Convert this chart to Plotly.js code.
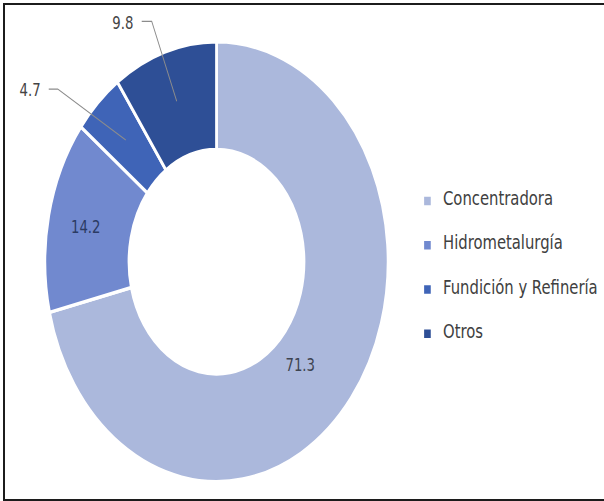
<!DOCTYPE html>
<html>
<head>
<meta charset="utf-8">
<script src="https://cdn.plot.ly/plotly-3.0.1.min.js"></script>
<style>
  html, body { margin: 0; padding: 0; background: #ffffff; overflow: hidden; }
  #wrap { position: absolute; left: 0; top: 0; width: 604px; height: 501px; overflow: hidden; background: #fff; }
  #chart { position: absolute; left: 0; top: 0; width: 775px; height: 501px; transform: scaleX(0.78); transform-origin: 0 0; }
  #frame { position: absolute; left: 3px; top: 3px; width: 601px; height: 498px; box-sizing: border-box; border-style: solid; border-color: #1c1c1c; border-width: 2px 0 2px 2px; pointer-events: none; }
</style>
</head>
<body>
<div id="wrap"><div id="chart"></div><div id="frame"></div></div>
<script>
// ---- data ----
const categories = ['Concentradora', 'Hidrometalurgía', 'Fundición y Refinería', 'Otros'];
const shares = [71.3, 14.2, 4.7, 9.8];
const sliceColors = ['#abb8dc', '#7189cf', '#3f64b7', '#2e4f96'];

// ---- layout geometry (screen pixels) ----
const S = 0.78, W = 775, H = 501;
const cxS = 216.5, cy = 261.7, R = 220;
const cx = cxS / S;

// label placement styles (screen-pixel offsets)
const labelStyle = [
  { mode: 'inside', r: 0.72, dx: -13, dy: 5, color: '#3d4350' },
  { mode: 'inside', r: 0.78, dx: 0, dy: 1.5, color: '#2b3b63' },
  { mode: 'outside', r: 0.765, text: [-96, -50], start: [-77, -51], elbow: [-68, -51], color: '#444444' },
  { mode: 'outside', r: 0.765, text: [-54, -78], start: [-35, -80], elbow: [-25, -80], color: '#444444' }
];

const total = shares.reduce((a, b) => a + b, 0);
function pt(angleDeg, rFrac) {
  const a = angleDeg * Math.PI / 180;
  return { x: cxS + R * rFrac * Math.sin(a) * S, y: cy - R * rFrac * Math.cos(a) };
}
function px(sx) { return sx / S / W; }
function py(sy) { return 1 - sy / H; }

const annotations = [];
const shapes = [];
let cum = 0;
shares.forEach((v, i) => {
  const mid = (cum + v / 2) / total * 360;
  cum += v;
  const st = labelStyle[i];
  const p = pt(mid, st.r);
  const txt = v.toFixed(1);
  if (st.mode === 'inside') {
    annotations.push({
      xref: 'paper', yref: 'paper', x: px(p.x + st.dx), y: py(p.y + st.dy),
      text: txt, showarrow: false, xanchor: 'center', yanchor: 'middle',
      font: { family: 'DejaVu Sans', size: 17, color: st.color }
    });
  } else {
    annotations.push({
      xref: 'paper', yref: 'paper', x: px(p.x + st.text[0]), y: py(p.y + st.text[1]),
      text: txt, showarrow: false, xanchor: 'center', yanchor: 'middle',
      font: { family: 'DejaVu Sans', size: 17, color: st.color }
    });
    const s0 = [px(p.x + st.start[0]), py(p.y + st.start[1])];
    const s1 = [px(p.x + st.elbow[0]), py(p.y + st.elbow[1])];
    const s2 = [px(p.x), py(p.y)];
    shapes.push({
      type: 'path', xref: 'paper', yref: 'paper',
      path: 'M' + s0[0] + ',' + s0[1] + ' L' + s1[0] + ',' + s1[1] + ' L' + s2[0] + ',' + s2[1],
      line: { color: '#8c8c8c', width: 1.2 }
    });
  }
});

const legendLabels = categories.map(c => '\u00a0<br><span style="font-size:19px">' + c + '</span><br>\u00a0');

const trace = {
  type: 'pie',
  labels: legendLabels,
  values: shares,
  sort: false,
  direction: 'clockwise',
  rotation: 0,
  hole: 0.51,
  textinfo: 'none',
  hoverinfo: 'skip',
  marker: { colors: sliceColors, line: { color: '#ffffff', width: 3.5 } },
  domain: { x: [(cx - R) / W, (cx + R) / W], y: [1 - (cy + R) / H, 1 - (cy - R) / H] }
};

const layout = {
  width: W, height: H,
  margin: { l: 0, r: 0, t: 0, b: 0 },
  paper_bgcolor: '#ffffff',
  showlegend: true,
  legend: {
    x: 528 / W, xanchor: 'left', y: 1 - 267.5 / H, yanchor: 'middle',
    font: { family: 'DejaVu Sans', size: 10.56, color: '#404040' },
    bgcolor: 'rgba(0,0,0,0)', itemclick: false, itemdoubleclick: false
  },
  annotations: annotations,
  shapes: shapes
};

Plotly.newPlot('chart', [trace], layout, { displayModeBar: false, staticPlot: true });
</script>
</body>
</html>
